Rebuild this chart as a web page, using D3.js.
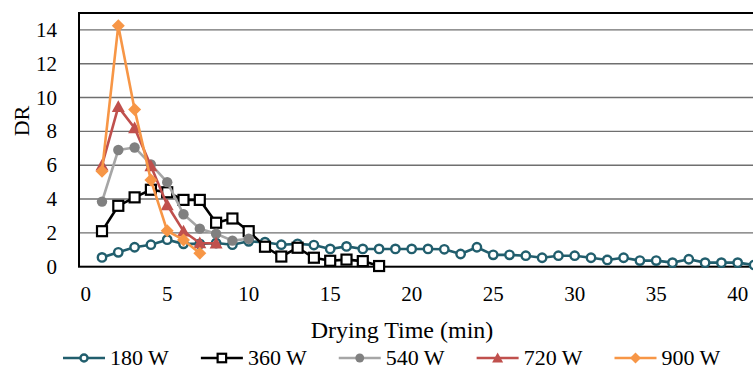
<!DOCTYPE html>
<html><head><meta charset="utf-8">
<script src="https://cdn.jsdelivr.net/npm/d3@7"></script>
<style>body{margin:0;background:#fff}svg{display:block}</style>
</head><body><svg id="c" width="753" height="369" font-family="'Liberation Serif', Tinos, 'Times New Roman', Times, 'DejaVu Serif', serif"></svg>
<script>
const t180 = d3.range(1, 42);
const v180 = [0.55,0.85,1.15,1.3,1.6,1.35,1.35,1.4,1.3,1.5,1.45,1.3,1.35,1.28,1.05,1.2,1.05,1.05,1.05,1.05,1.05,1.03,0.75,1.15,0.7,0.7,0.65,0.53,0.65,0.65,0.53,0.4,0.53,0.36,0.36,0.24,0.44,0.24,0.24,0.24,0.1];
const t360 = d3.range(1, 19);
const v360 = [2.1,3.6,4.1,4.55,4.4,3.95,3.95,2.6,2.85,2.1,1.18,0.6,1.12,0.53,0.35,0.42,0.33,0.04];
const t540 = d3.range(1, 11);
const v540 = [3.85,6.9,7.05,6.05,5.0,3.1,2.25,1.95,1.54,1.65];
const t720 = d3.range(1, 9);
const v720 = [6.0,9.45,8.2,5.95,3.65,2.1,1.4,1.38];
const t900 = d3.range(1, 8);
const v900 = [5.65,14.25,9.3,5.12,2.12,1.58,0.8];
const seriesNames = ["180 W","360 W","540 W","720 W","900 W"];
const xTicks = [0,5,10,15,20,25,30,35,40];
const yTicks = [0,2,4,6,8,10,12,14];

const series = [
  {name:seriesNames[0], t:t180, v:v180, line:"#215E6D", mk:"circle", fill:"#fff", stroke:"#215E6D", size:4.2, sw:2.4},
  {name:seriesNames[1], t:t360, v:v360, line:"#000", mk:"square", fill:"#fff", stroke:"#000", size:10, sw:2.2},
  {name:seriesNames[2], t:t540, v:v540, line:"#A6A6A6", mk:"dot", fill:"#808080", stroke:"none", size:5.2, sw:0},
  {name:seriesNames[3], t:t720, v:v720, line:"#C0504D", mk:"tri", fill:"#C0504D", stroke:"none", size:13, sw:0},
  {name:seriesNames[4], t:t900, v:v900, line:"#F79646", mk:"dia", fill:"#F79646", stroke:"none", size:13, sw:0}
];

const svg = d3.select("#c");
const L = 79, T = 13, B = 266.7, R = 800;
const x = d3.scaleLinear().domain([0,40]).range([85.7, 737.7]);
const y = d3.scaleLinear().domain([0,15]).range([B, T]);

svg.append("g").selectAll("line").data(yTicks.filter(d=>d>0)).join("line")
  .attr("x1", L).attr("x2", R).attr("y1", d=>y(d)).attr("y2", d=>y(d))
  .attr("stroke", "#6f6f6f").attr("stroke-width", 1.4);

svg.append("rect").attr("x", L).attr("y", T).attr("width", R-L).attr("height", B-T)
  .attr("fill","none").attr("stroke","#000").attr("stroke-width",2);

svg.append("g").selectAll("text").data(yTicks).join("text")
  .attr("x", 57).attr("y", d=>y(d)+7).attr("text-anchor","end")
  .attr("font-size",21).text(d=>d);
svg.append("g").selectAll("text").data(xTicks).join("text")
  .attr("x", d=>x(d)).attr("y", 300.5).attr("text-anchor","middle")
  .attr("font-size",21).text(d=>d);

svg.append("text").attr("x", 402).attr("y", 338).attr("text-anchor","middle")
  .attr("font-size",24).text("Drying Time (min)");
svg.append("text").attr("transform","translate(29,121) rotate(-90)").attr("text-anchor","middle")
  .attr("font-size",22).text("DR");

function drawMarker(g, s, cx, cy, scale) {
  const k = scale || 1;
  if (s.mk === "circle") {
    g.append("circle").attr("cx",cx).attr("cy",cy).attr("r",s.size*k).attr("fill",s.fill).attr("stroke",s.stroke).attr("stroke-width",s.sw);
  } else if (s.mk === "square") {
    const h = s.size*k/2;
    g.append("rect").attr("x",cx-h).attr("y",cy-h).attr("width",2*h).attr("height",2*h).attr("fill",s.fill).attr("stroke",s.stroke).attr("stroke-width",s.sw);
  } else if (s.mk === "dot") {
    g.append("circle").attr("cx",cx).attr("cy",cy).attr("r",s.size*k).attr("fill",s.fill);
  } else if (s.mk === "tri") {
    const h = s.size*k/2;
    g.append("path").attr("d",`M${cx},${cy-h}L${cx+h},${cy+h*0.8}L${cx-h},${cy+h*0.8}Z`).attr("fill",s.fill);
  } else if (s.mk === "dia") {
    const h = s.size*k/2;
    g.append("path").attr("d",`M${cx},${cy-h}L${cx+h},${cy}L${cx},${cy+h}L${cx-h},${cy}Z`).attr("fill",s.fill);
  }
}

const plot = svg.append("g");
series.forEach(s => {
  const pts = s.t.map((t,i)=>[x(t), y(s.v[i])]);
  const g = plot.append("g");
  g.append("path").attr("d", d3.line()(pts)).attr("fill","none").attr("stroke",s.line).attr("stroke-width",2.6).attr("stroke-linejoin","round");
  pts.forEach(p => drawMarker(g, s, p[0], p[1]));
});

let lx = 63;
const ly = 358;
series.forEach(s => {
  const g = svg.append("g");
  g.append("line").attr("x1",lx).attr("x2",lx+42).attr("y1",ly).attr("y2",ly).attr("stroke",s.line).attr("stroke-width",2.6);
  drawMarker(g, s, lx+21, ly, 0.85);
  const tx = g.append("text").attr("x", lx+47).attr("y", ly+6.5).attr("font-size",22).text(s.name);
  lx += 47 + tx.node().getComputedTextLength() + 32;
});
</script></body></html>
